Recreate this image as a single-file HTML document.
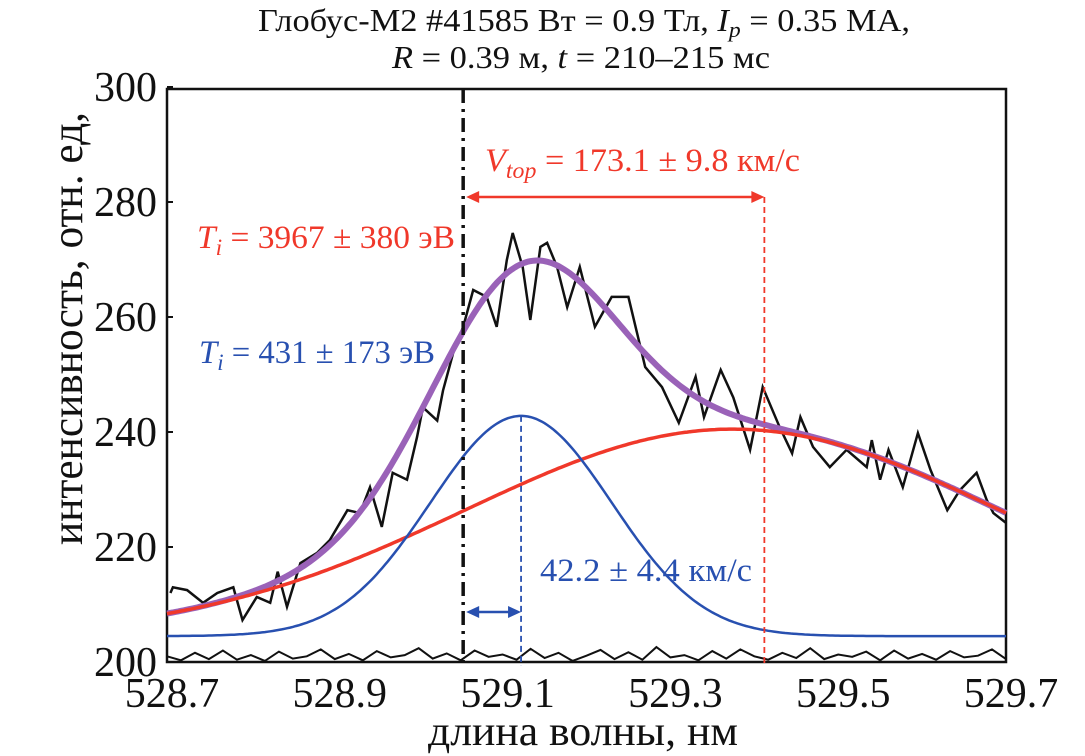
<!DOCTYPE html>
<html><head><meta charset="utf-8">
<style>
html,body{margin:0;padding:0;background:#fff;}
svg{display:block;font-family:"Liberation Serif",serif;}
</style></head>
<body>
<svg id="chart" width="1085" height="756" viewBox="0 0 1085 756" xmlns="http://www.w3.org/2000/svg">
<g id="plot"></g>
</svg>
<script>
// ---- data ----
const xTicks = [528.7, 528.9, 529.1, 529.3, 529.5, 529.7];
const xTickLabels = ["528.7","528.9","529.1","529.3","529.5","529.7"];
const yTicks = [200, 220, 240, 260, 280, 300];
const yTickLabels = ["200","220","240","260","280","300"];
const signalX = [528.704,528.707,528.724,528.743,528.76,528.779,528.79,528.807,528.823,528.832,528.843,528.859,528.879,528.894,528.915,528.93,528.942,528.956,528.969,528.986,528.998,529.005,529.022,529.029,529.041,529.053,529.065,529.081,529.093,529.105,529.112,529.124,529.133,529.145,529.153,529.165,529.177,529.192,529.21,529.23,529.25,529.27,529.29,529.31,529.33,529.34,529.36,529.375,529.395,529.41,529.43,529.445,529.455,529.47,529.49,529.51,529.534,529.54,529.55,529.56,529.577,529.595,529.61,529.63,529.645,529.665,529.677,529.685,529.7];
const signalY = [212,213,212.5,210.3,212,213,207.3,211.3,210.3,215.7,209.6,217.2,219,221.2,226.4,225.9,230.4,223.5,232.9,231.7,239.1,244.3,242,247.2,253.7,258.3,264.7,263.5,258.3,269.9,274.6,268.7,259.5,272.2,272.9,268.7,261.7,268.7,258.3,263.5,263.5,251.3,247.8,241.6,249.6,242.6,250.8,246,236.9,247.8,240.9,236.3,242.6,237.4,233.9,236.9,233.9,238.6,231.7,236.9,230.4,239.8,233.4,226.4,229.9,232.9,228.2,225.9,224.2];
const noiseY = [201,200.3,201.6,200.5,202,200.4,201.2,200.2,201.8,200.6,201,202.2,200.5,201.4,200.3,201.9,200.8,201.2,202.4,200.6,201.5,200.3,202,200.9,201.3,200.4,202.3,200.7,201.6,200.2,201.1,202.1,200.5,201.7,200.4,202.6,200.8,201.2,200.3,201.9,200.6,202.2,201,200.4,201.6,200.7,202.4,200.5,201.3,200.9,201.8,200.3,202,200.6,201.4,200.4,201.9,200.8,201.1,202.2,200.5];
// fitted gaussian components: [center nm, amplitude, sigma nm]
const baseline = [204.5];
const narrowFit = [529.122, 38.3, 0.108];
const broadFit = [529.374, 36.0, 0.32];
const markers = [529.053, 529.122, 529.412]; // rest line, narrow shift, broad shift

// ---- scales ----
const X0=167, X1=1006, Y0=662, Y1=87;
const xs = v => X0 + (v-528.7)/(1.0)*(X1-X0);
const ys = v => Y0 - (v-200)/100*(Y0-Y1);
const NS="http://www.w3.org/2000/svg";
const plot=document.getElementById('plot');
function mk(tag, attrs, parent){const e=document.createElementNS(NS,tag);for(const k in attrs)e.setAttribute(k,attrs[k]);(parent||plot).appendChild(e);return e;}
const gauss=(x,p)=>p[1]*Math.exp(-((x-p[0])**2)/(2*p[2]*p[2]));

// frame
let e=mk('rect',{x:X0,y:89,width:X1-X0,height:Y0-89,fill:'none',stroke:'#111','stroke-width':2.5});



// y ticks
yTicks.forEach((v,i)=>{
  const t=mk('line',{x1:X0,x2:X0+6,y1:ys(v),y2:ys(v),stroke:'#111','stroke-width':2});
  
  
  const l=mk('text',{x:157,y:ys(v)+14,'text-anchor':'end','font-size':42,fill:'#111'});
  l.textContent=yTickLabels[i];
  
  
});
xTicks.forEach((v,i)=>{
  const l=mk('text',{x:xs(v)+5,y:707,'text-anchor':'middle','font-size':42,fill:'#111'});
  l.textContent=xTickLabels[i];
  
  
});

function path(fn,color,w,name){
  let d='';for(let i=0;i<=300;i++){const x=528.7+i/300;d+=(i?'L':'M')+xs(x).toFixed(1)+','+ys(fn(x)).toFixed(1);}
  const p=mk('path',{d,fill:'none',stroke:color,'stroke-width':w});
  
  
}
// noise line
{let d='';noiseY.forEach((v,i)=>{d+=(i?'L':'M')+xs(528.7+i/(noiseY.length-1)).toFixed(1)+','+ys(v).toFixed(1);});
 const p=mk('path',{d,fill:'none',stroke:'#111','stroke-width':2});
 
 }

// signal
{let d='';signalX.forEach((x,i)=>{d+=(i?'L':'M')+xs(x).toFixed(1)+','+ys(signalY[i]).toFixed(1);});
 const p=mk('path',{d,fill:'none',stroke:'#111','stroke-width':2.5});
 
 }

path(x=>baseline[0]+gauss(x,narrowFit)+gauss(x,broadFit),'#9a62b8',6,'total-fit-curve');
path(x=>baseline[0]+gauss(x,broadFit),'#f0382a',3.5,'broad-component-curve');
path(x=>baseline[0]+gauss(x,narrowFit),'#2850b0',2.5,'narrow-component-curve');

// marker lines
e=mk('line',{x1:xs(markers[0]),x2:xs(markers[0]),y1:89,y2:Y0+4,stroke:'#111','stroke-width':3.5,'stroke-dasharray':'14,6,3,6'});


e=mk('line',{x1:xs(markers[1]),x2:xs(markers[1]),y1:ys(baseline[0]+narrowFit[1]),y2:Y0+4,stroke:'#2850b0','stroke-width':1.8,'stroke-dasharray':'6,4'});


e=mk('line',{x1:xs(markers[2]),x2:xs(markers[2]),y1:197,y2:Y0+4,stroke:'#f0382a','stroke-width':1.8,'stroke-dasharray':'6,4'});



function arrow(xa,xb,y,color,name){
  const g=mk('g',{});
  
  
  mk('line',{x1:xa+8,x2:xb-8,y1:y,y2:y,stroke:color,'stroke-width':2.5},g);
  mk('path',{d:`M${xa},${y}L${xa+13},${y-6}L${xa+13},${y+6}Z`,fill:color},g);
  mk('path',{d:`M${xb},${y}L${xb-13},${y-6}L${xb-13},${y+6}Z`,fill:color},g);
}
arrow(xs(markers[0])+3,xs(markers[2]),197,'#f0382a','broad-shift-arrow');
arrow(xs(markers[0])+3,xs(markers[1]),612,'#2850b0','narrow-shift-arrow');
</script>
<svg style="position:absolute;left:0;top:0" width="1085" height="756" xmlns="http://www.w3.org/2000/svg" font-family="Liberation Serif, serif">
<text x="258" y="31" font-size="32" fill="#111" textLength="652" lengthAdjust="spacingAndGlyphs">Глобус-М2 #41585 Вт = 0.9 Тл, <tspan font-style="italic">I</tspan><tspan font-style="italic" font-size="22" dy="6">p</tspan><tspan dy="-6"> = 0.35 МА,</tspan></text>
<text x="392" y="68" font-size="32" fill="#111" textLength="378" lengthAdjust="spacingAndGlyphs"><tspan font-style="italic">R</tspan> = 0.39 м, <tspan font-style="italic">t</tspan> = 210–215 мс</text>
<text x="485" y="171" font-size="33" fill="#f0382a" textLength="315" lengthAdjust="spacingAndGlyphs"><tspan font-style="italic">V</tspan><tspan font-style="italic" font-size="23" dy="7">top</tspan><tspan dy="-7"> = 173.1 ± 9.8 км/с</tspan></text>
<text x="197" y="248" font-size="33" fill="#f0382a" textLength="258" lengthAdjust="spacingAndGlyphs"><tspan font-style="italic">T</tspan><tspan font-style="italic" font-size="23" dy="7">i</tspan><tspan dy="-7"> = 3967 ± 380 эВ</tspan></text>
<text x="199" y="363" font-size="33" fill="#2850b0" textLength="236" lengthAdjust="spacingAndGlyphs"><tspan font-style="italic">T</tspan><tspan font-style="italic" font-size="23" dy="7">i</tspan><tspan dy="-7"> = 431 ± 173 эВ</tspan></text>
<text x="540" y="581" font-size="33" fill="#2850b0" textLength="212" lengthAdjust="spacingAndGlyphs">42.2 ± 4.4 км/с</text>
<text x="428" y="745" font-size="42" fill="#111" textLength="310" lengthAdjust="spacingAndGlyphs">длина волны, нм</text>
<text transform="translate(82,545) rotate(-90)" font-size="44" fill="#111" textLength="433" lengthAdjust="spacingAndGlyphs">интенсивность, отн. ед,</text>
</svg>
</body></html>
